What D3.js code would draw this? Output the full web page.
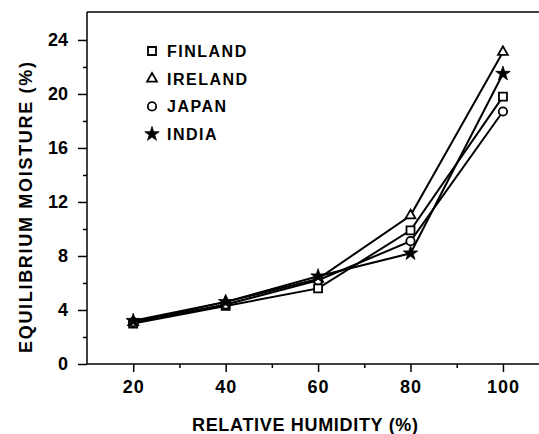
<!DOCTYPE html>
<html>
<head>
<meta charset="utf-8">
<script src="https://cdn.jsdelivr.net/npm/d3@7"></script>
<style>
  body { margin: 0; background: #fff; }
  text { font-family: "Liberation Sans", Arial, sans-serif; font-weight: bold; fill: #000; }
</style>
</head>
<body>
<div id="chart"></div>
<script>
// Data
const humidity = [20, 40, 60, 80, 100];
const finland = [3.0, 4.3, 5.6, 9.9, 19.8];
const ireland = [3.1, 4.6, 6.3, 11.0, 23.1];
const japan = [3.1, 4.4, 6.2, 9.1, 18.7];
const india = [3.2, 4.6, 6.5, 8.2, 21.5];
const seriesNames = ["FINLAND", "IRELAND", "JAPAN", "INDIA"];
const xTicks = [20, 40, 60, 80, 100];
const yTicks = [0, 4, 8, 12, 16, 20, 24];

const series = [
    { name: "FINLAND", values: finland, symbol: d3.symbolSquare, filled: false, size: 64 },
    { name: "IRELAND", values: ireland, symbol: d3.symbolTriangle, filled: false, size: 42 },
    { name: "JAPAN", values: japan, symbol: d3.symbolCircle, filled: false, size: 55 },
    { name: "INDIA", values: india, symbol: d3.symbolStar, filled: true, size: 65 }
];

const width = 539, height = 434;
const margin = { top: 12, right: 0, bottom: 70, left: 87 };

const svg = d3.select("#chart").append("svg")
    .attr("width", width)
    .attr("height", height);

// scales
const x = d3.scaleLinear().domain([10, 107.8]).range([margin.left, width - margin.right]);
const y = d3.scaleLinear().domain([0, 26.07]).range([height - margin.bottom, margin.top]);

// top border line
svg.append("line")
    .attr("x1", margin.left).attr("x2", width)
    .attr("y1", margin.top).attr("y2", margin.top)
    .attr("stroke", "#000").attr("stroke-width", 1.5);

// x axis - major + minor ticks
const xAxis = svg.append("g")
    .attr("transform", `translate(0,${y(0)})`)
    .call(d3.axisBottom(x).tickValues(xTicks).tickSize(8).tickPadding(8));
svg.append("g")
    .attr("transform", `translate(0,${y(0)})`)
    .call(d3.axisBottom(x).tickValues([30, 50, 70, 90]).tickSize(4).tickFormat(""))
    .select(".domain").remove();

// y axis
const yAxis = svg.append("g")
    .attr("transform", `translate(${margin.left},0)`)
    .call(d3.axisLeft(y).tickValues(yTicks).tickSize(9).tickPadding(10));
svg.append("g")
    .attr("transform", `translate(${margin.left},0)`)
    .call(d3.axisLeft(y).tickValues([2, 6, 10, 14, 18, 22]).tickSize(4).tickFormat(""))
    .select(".domain").remove();

svg.selectAll(".domain, .tick line").attr("stroke", "#000").attr("stroke-width", 1.5);
xAxis.select(".domain").attr("d", `M${margin.left},0H${width}`);
yAxis.select(".domain").attr("d", `M0,${y(0)}V${margin.top}`);
svg.selectAll(".tick text")
    .style("font-size", "18px")
    .style("font-family", "'Liberation Sans', Arial, sans-serif")
    .style("font-weight", "bold")
    .attr("fill", "#000");
xAxis.selectAll(".tick text").attr("y", 29).attr("dy", 0).style("letter-spacing", "1px");

// axis titles
svg.append("text")
    .attr("x", 192)
    .attr("y", 431)
    .attr("textLength", 226)
    .attr("lengthAdjust", "spacing")
    .style("font-size", "18px")
    .text("RELATIVE HUMIDITY (%)");

svg.append("text")
    .attr("transform", `translate(32,353) rotate(-90)`)
    .attr("textLength", 291)
    .attr("lengthAdjust", "spacing")
    .style("font-size", "18px")
    .text("EQUILIBRIUM MOISTURE (%)");

// lines
const line = d3.line()
    .x((d, i) => x(humidity[i]))
    .y(d => y(d));

series.forEach(s => {
    svg.append("path")
        .datum(s.values)
        .attr("d", line)
        .attr("fill", "none")
        .attr("stroke", "#000")
        .attr("stroke-width", 2);
});

// markers
series.forEach(s => {
    svg.selectAll(null)
        .data(s.values)
        .enter()
        .append("path")
            .attr("transform", (d, i) => `translate(${x(humidity[i])},${y(d)})`)
            .attr("d", d3.symbol().type(s.symbol).size(s.size))
            .attr("fill", s.filled ? "#000" : "#fff")
            .attr("stroke", "#000")
            .attr("stroke-width", s.filled ? 0.8 : 1.8);
});

// legend
const legend = svg.append("g");
series.forEach((s, i) => {
    const ly = 51 + i * 27.7;
    legend.append("path")
        .attr("transform", `translate(152,${ly})`)
        .attr("d", d3.symbol().type(s.symbol).size(s.size))
        .attr("fill", s.filled ? "#000" : "#fff")
        .attr("stroke", "#000")
        .attr("stroke-width", s.filled ? 0.8 : 1.8);
    legend.append("text")
        .attr("x", 167)
        .attr("y", ly + 6)
        .style("font-size", "16px")
        .style("letter-spacing", "1.5px")
        .text(seriesNames[i]);
});
</script>
</body>
</html>
